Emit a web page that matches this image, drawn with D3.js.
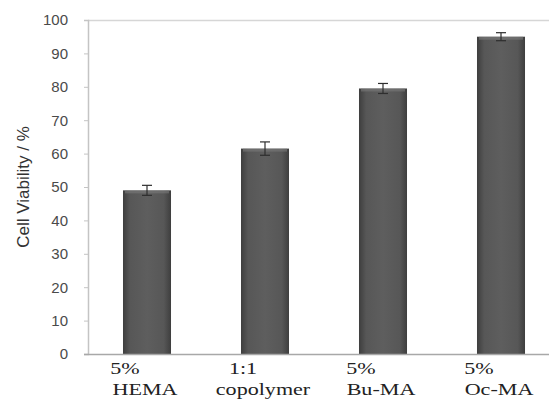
<!DOCTYPE html>
<html>
<head>
<meta charset="utf-8">
<script src="https://cdn.jsdelivr.net/npm/d3@7"></script>
<style>
  body { margin: 0; background: #fff; }
  svg { display: block; }
</style>
</head>
<body>
<svg width="549" height="401"></svg>
<script>
// data
var lineOne = ["5%", "1:1", "5%", "5%"];
var lineTwo = ["HEMA", "copolymer", "Bu-MA", "Oc-MA"];
var viability = [49, 61.5, 79.5, 95];
var errors = [1.5, 2, 1.5, 1.2];
var yTicks = [0, 10, 20, 30, 40, 50, 60, 70, 80, 90, 100];

var svg = d3.select("svg"),
    width = +svg.attr("width"),
    height = +svg.attr("height");

// plot box (right edge runs off the page, like the cropped original)
var plotLeft = 88, plotTop = 20, plotBottom = 354, plotRight = 560;

var x = d3.scaleBand()
  .domain(d3.range(viability.length))
  .range([plotLeft, plotRight])
  .paddingInner(0.593)
  .paddingOuter(0.2965);

var y = d3.scaleLinear().domain([0, 100]).range([plotBottom, plotTop]);

var defs = svg.append("defs");
var grad = defs.append("linearGradient").attr("id", "barfill")
  .attr("x1", "0").attr("x2", "1").attr("y1", "0").attr("y2", "0");
grad.append("stop").attr("offset", "0%").attr("stop-color", "#3e3e3e");
grad.append("stop").attr("offset", "15%").attr("stop-color", "#575757");
grad.append("stop").attr("offset", "50%").attr("stop-color", "#5e5e5e");
grad.append("stop").attr("offset", "85%").attr("stop-color", "#575757");
grad.append("stop").attr("offset", "100%").attr("stop-color", "#3e3e3e");

// top frame line
svg.append("line")
  .attr("x1", plotLeft).attr("x2", width).attr("y1", plotTop + 0.5).attr("y2", plotTop + 0.5)
  .attr("stroke", "#d6d6d6").attr("stroke-width", 1.5);

// y axis
var yAxis = svg.append("g")
  .attr("transform", "translate(" + plotLeft + ",0)")
  .call(d3.axisLeft(y).tickValues(yTicks).tickSize(4).tickPadding(16));
yAxis.select(".domain").attr("stroke", "#c4c4c4").attr("stroke-width", 1.5);
yAxis.selectAll(".tick line").attr("stroke", "#c4c4c4");
yAxis.selectAll(".tick text")
  .attr("font-family", "'Liberation Sans', Arial, sans-serif")
  .attr("font-size", 15)
  .attr("fill", "#4a4a4a");

// bars
var bars = svg.append("g").selectAll("g")
  .data(viability)
  .enter().append("g");

bars.append("rect")
  .attr("x", function(d, i) { return x(i); })
  .attr("y", function(d) { return y(d); })
  .attr("width", x.bandwidth())
  .attr("height", function(d) { return y(0) - y(d); })
  .attr("fill", "url(#barfill)");

bars.append("rect")
  .attr("x", function(d, i) { return x(i) + 2; })
  .attr("y", function(d) { return y(d); })
  .attr("width", x.bandwidth() - 4)
  .attr("height", 3)
  .attr("fill", "#7a7a7a")
  .attr("opacity", 0.6);

// error bars
var cx = function(i) { return x(i) + x.bandwidth() / 2; };
bars.append("line")
  .attr("x1", function(d, i) { return cx(i); })
  .attr("x2", function(d, i) { return cx(i); })
  .attr("y1", function(d, i) { return y(d - errors[i]); })
  .attr("y2", function(d, i) { return y(d + errors[i]); })
  .attr("stroke", "#2e2e2e").attr("stroke-width", 1.2);
bars.append("line")
  .attr("x1", function(d, i) { return cx(i) - 5; })
  .attr("x2", function(d, i) { return cx(i) + 5; })
  .attr("y1", function(d, i) { return y(d + errors[i]); })
  .attr("y2", function(d, i) { return y(d + errors[i]); })
  .attr("stroke", "#2e2e2e").attr("stroke-width", 1.2);
bars.append("line")
  .attr("x1", function(d, i) { return cx(i) - 5; })
  .attr("x2", function(d, i) { return cx(i) + 5; })
  .attr("y1", function(d, i) { return y(d - errors[i]); })
  .attr("y2", function(d, i) { return y(d - errors[i]); })
  .attr("stroke", "#2e2e2e").attr("stroke-width", 1.2);

// x axis line
svg.append("line")
  .attr("x1", plotLeft - 4).attr("x2", width).attr("y1", plotBottom + 0.5).attr("y2", plotBottom + 0.5)
  .attr("stroke", "#a8a8a8").attr("stroke-width", 1.5);

// category labels, two lines each (the original is stretched sideways)
var labels = svg.append("g")
  .attr("font-family", "'Liberation Serif', 'Times New Roman', serif")
  .attr("font-size", 17)
  .attr("fill", "#222");
labels.selectAll("text.l1")
  .data(lineOne)
  .enter().append("text")
  .attr("class", "l1")
  .attr("transform", function(d, i) { return "translate(" + (cx(i) - 22) + ",374) scale(1.3,1)"; })
  .attr("text-anchor", "middle")
  .text(function(d) { return d; });
labels.selectAll("text.l2")
  .data(lineTwo)
  .enter().append("text")
  .attr("class", "l2")
  .attr("transform", function(d, i) { return "translate(" + (cx(i) - 2) + ",395) scale(1.3,1)"; })
  .attr("text-anchor", "middle")
  .text(function(d) { return d; });

// y title
svg.append("text")
  .attr("transform", "translate(29," + y(50) + ") rotate(-90)")
  .attr("text-anchor", "middle")
  .attr("font-family", "'Liberation Sans', Arial, sans-serif")
  .attr("font-size", 17)
  .attr("fill", "#333")
  .text("Cell Viability / %");
</script>
</body>
</html>
